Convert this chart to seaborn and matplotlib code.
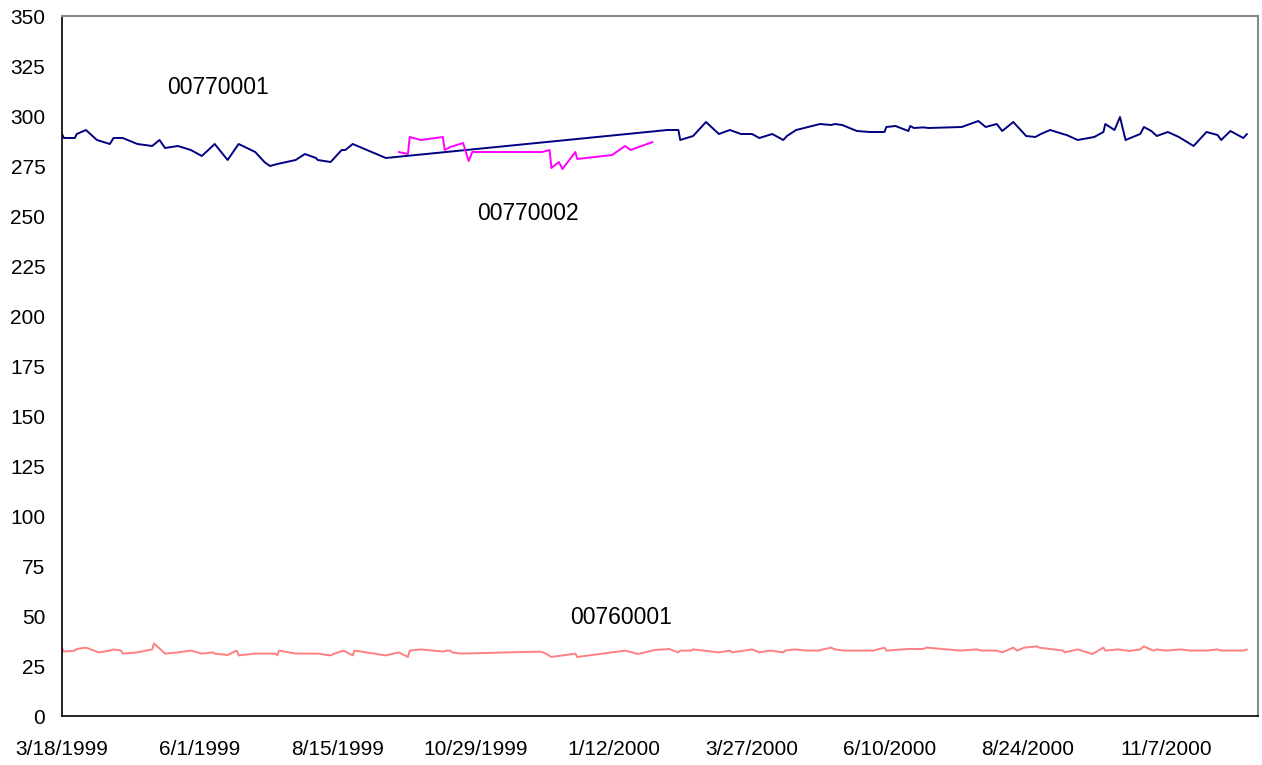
import pandas as pd
import numpy as np
import matplotlib
matplotlib.use("Agg")
import matplotlib.pyplot as plt
import seaborn as sns

# ---------------- data ----------------
start_date = "1999-03-18"

# series 00770001 : days since start, value
s1_day = [0, 1, 7, 8, 13, 19, 26, 28, 33, 41, 49, 53, 56, 63, 70, 76, 83, 90, 96, 105,
          110, 113, 117, 127, 132, 138, 139, 146, 148, 152, 154, 158, 176,
          329, 335, 336, 343, 350, 357, 363, 369, 375, 379, 386, 392, 394, 399, 412, 418,
          420, 424, 432, 439, 447, 448, 453, 460, 461, 463, 468, 471, 489, 498, 502, 508,
          511, 517, 524, 529, 532, 537, 544, 546, 552, 561, 566, 567, 572, 575, 578, 586,
          588, 592, 595, 601, 607, 615, 622, 628, 630, 635, 642, 644]
s1_val = [291, 289, 289, 291, 293, 288, 286, 289, 289, 286, 285, 288, 284, 285, 283, 280, 286, 278, 286, 282,
          277, 275, 276, 278, 281, 279, 278, 277, 279, 283, 283, 286, 279,
          293, 293, 288, 290, 297, 291, 293, 291, 291, 289, 291, 288, 290, 293, 296, 295.5,
          296, 295.5, 292.5, 292, 292, 294.5, 295, 292.5, 295, 294, 294.3, 294, 294.5, 297.5, 294.5, 296,
          292.5, 297, 290, 289.5, 291, 293, 291, 290.5, 288, 289.5, 292, 296, 293, 299.5, 288, 291,
          294.5, 292.5, 290, 292, 289.5, 285, 292, 290.5, 288, 292.5, 289, 291]

# series 00770002
s2_day = [183, 188, 189, 195, 207, 208, 211, 218, 221, 223, 261, 265, 266, 270, 272, 279, 280,
          299, 306, 309, 321]
s2_val = [282, 281, 289.5, 288, 289.5, 283, 284.5, 286.5, 277.5, 282, 282, 283, 274, 277, 273.5, 282, 278.5,
          280.5, 285, 283, 287]

# series 00760001
s3_day = [0, 1, 7, 8, 13, 20, 26, 28, 32, 33, 41, 49, 50, 56, 63, 70, 76, 82, 83, 90, 95, 96,
          105, 116, 117, 118, 127, 139, 146, 148, 153, 158, 159, 176, 183, 188, 189, 195, 207,
          209, 211, 212, 217, 260, 263, 266, 279, 280, 306, 313, 322, 330, 335, 336, 342, 343,
          357, 363, 364, 375, 379, 385, 392, 393, 398, 405, 411, 418, 420, 425, 441, 447, 448,
          460, 468, 470, 488, 497, 500, 508, 511, 517, 519, 523, 530, 531, 544, 545, 552, 560,
          566, 567, 574, 580, 586, 588, 593, 595, 600, 608, 613, 622, 628, 630, 642, 644]
s3_val = [34, 32.2, 32.7, 33.5, 34.2, 31.8, 32.7, 33.3, 32.7, 31.2, 31.8, 33.3, 36.3, 31.2, 31.8, 32.7, 31.2, 31.8, 31.2, 30.5, 32.7, 30.3,
          31.2, 31.2, 30.3, 32.7, 31.2, 31.2, 30.3, 31.2, 32.7, 30.3, 32.7, 30.3, 31.8, 29.5, 32.7, 33.3, 32.2,
          32.7, 32.7, 31.8, 31.2, 32.2, 31.2, 29.5, 31.2, 29.5, 32.7, 31, 33, 33.5, 31.8, 32.7, 32.7, 33.3,
          31.8, 32.7, 31.8, 33.3, 31.8, 32.7, 31.8, 32.7, 33.3, 32.7, 32.7, 34.2, 33.3, 32.7, 32.7, 34.2, 32.7,
          33.5, 33.5, 34.2, 32.7, 33.3, 32.7, 32.7, 31.8, 34.2, 32.7, 34.2, 34.8, 34.2, 32.7, 31.8, 33.3, 31,
          34.2, 32.7, 33.3, 32.5, 33.3, 34.8, 32.7, 33.3, 32.7, 33.3, 32.7, 32.7, 33.3, 32.7, 32.7, 33.3]

series_names = ["00770001", "00770002", "00760001"]
series_colors = ["#000080", "#FF00FF", "#FF8080"]

# label anchors (day, value)
label_day = [85, 253, 304]
label_val = [314, 251.5, 49]

x_tick_labels = ["3/18/1999", "6/1/1999", "8/15/1999", "10/29/1999", "1/12/2000",
                 "3/27/2000", "6/10/2000", "8/24/2000", "11/7/2000"]
y_ticks = list(range(0, 351, 25))
x_max_day = 650

# ---------------- build ----------------
base = pd.Timestamp(start_date)

def to_df(days, vals):
    return pd.DataFrame({"date": base + pd.to_timedelta(days, unit="D"), "value": vals})

frames = [to_df(s1_day, s1_val), to_df(s2_day, s2_val), to_df(s3_day, s3_val)]

sns.set_theme(style="white")
plt.rcParams["font.family"] = ["Liberation Sans", "DejaVu Sans"]

fig = plt.figure(figsize=(12.62, 7.65), dpi=100)
ax = fig.add_axes([62 / 1262, 1 - 716 / 765, (1258 - 62) / 1262, (716 - 16) / 765])

for df, name, col in zip(frames, series_names, series_colors):
    sns.lineplot(data=df, x="date", y="value", ax=ax, color=col, linewidth=1.4,
                 estimator=None, sort=False, legend=False)

for name, d, v in zip(series_names, label_day, label_val):
    ax.text(base + pd.Timedelta(days=d), v, name, ha="center", va="center",
            fontsize=16.5, color="black")

ax.set_xlim(base, base + pd.Timedelta(days=x_max_day))
ax.set_ylim(0, 350)
ax.set_yticks(y_ticks)
ax.set_yticklabels([str(t) for t in y_ticks])
ax.set_xticks(pd.to_datetime(x_tick_labels, format="%m/%d/%Y"))
ax.set_xticklabels(x_tick_labels)
ax.set_xlabel("")
ax.set_ylabel("")

ax.tick_params(axis="both", which="both", direction="out", length=5, width=1,
               color="black", labelsize=15, labelcolor="black")
ax.tick_params(axis="y", pad=7)
ax.tick_params(axis="x", pad=12)

for side in ["left", "bottom"]:
    ax.spines[side].set_color("black")
    ax.spines[side].set_linewidth(1.2)
for side in ["top", "right"]:
    ax.spines[side].set_color("#888888")
    ax.spines[side].set_linewidth(1.5)
ax.grid(False)

fig.savefig("out.png", dpi=100)
